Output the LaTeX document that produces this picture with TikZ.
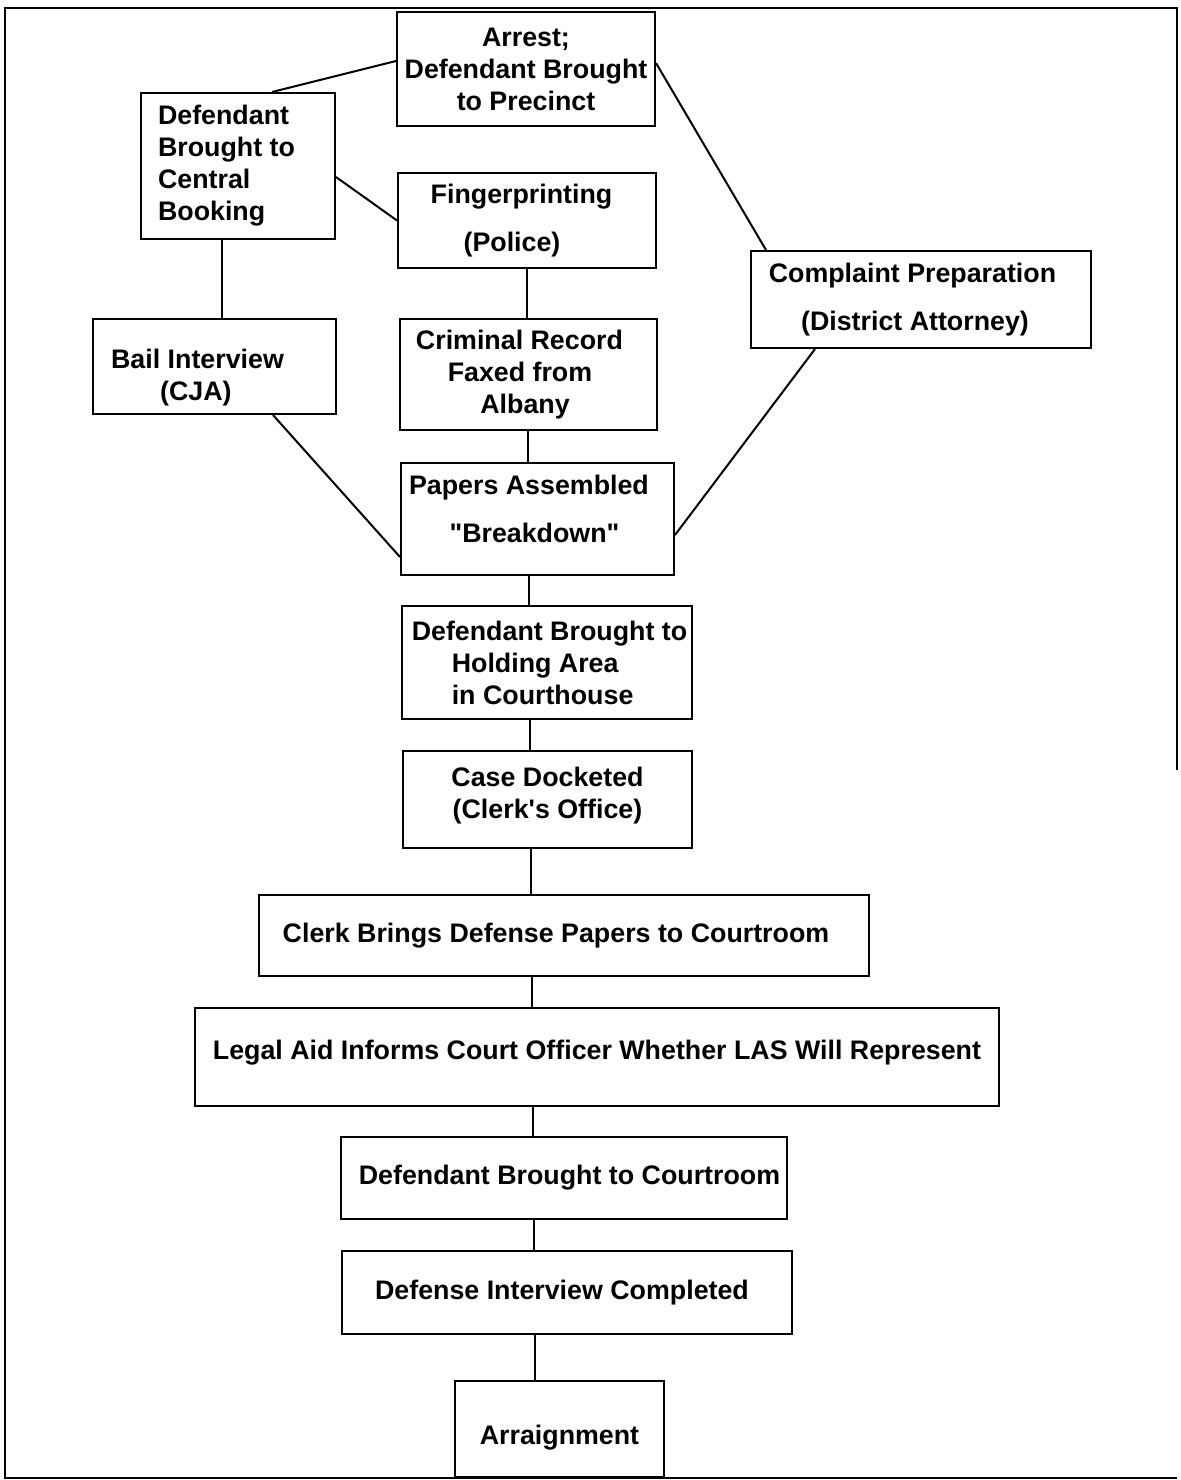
\documentclass[tikz,border=0pt]{standalone}
\usepackage{fontspec}
\newfontfamily\lsans{Liberation Sans}
\newcommand{\padr}[1]{\rule{#1}{0pt}}
\newcommand{\upby}[1]{\rule[-#1]{0pt}{#1}}
\newcommand{\dnby}[1]{\rule{0pt}{\dimexpr\fontcharht\font`A+#1\relax}}
\begin{document}
\begin{tikzpicture}[x=0.5pt,y=-0.5pt,
  box/.style={draw, line width=1pt, inner sep=0pt,
    font=\lsans\fontsize{13.4pt}{16pt}\selectfont\bfseries, align=center},
  link/.style={line width=1pt},
  frame/.style={line width=0.8pt}]
\useasboundingbox (0,0) rectangle (1181,1480);
\fill[white] (0,0) rectangle (1181,1480);

% outer frame (right side only partly printed in the scan)
\draw[frame] (1177,770) -- (1177,8) -- (5,8) -- (5,1478) -- (1177,1478);

% boxes
\node[box, minimum width=129pt, minimum height=57pt] (arrest) at (526,69)
  {Arrest;\\Defendant Brought\\to Precinct};
\node[box, align=left, minimum width=97pt, minimum height=73pt] (cb) at (238,166)
  {Defendant\\Brought to\padr{11.5pt}\\Central\\Booking};
\node[box, minimum width=129pt, minimum height=47.5pt] (fp) at (527,220.5)
  {Fingerprinting\padr{5.5pt}\\[8pt](Police)\padr{15pt}};
\node[box, minimum width=170pt, minimum height=48.5pt] (cp) at (921,299.5)
  {Complaint Preparation\padr{8.5pt}\\[8pt](District Attorney)\padr{6pt}};
\node[box, align=left, minimum width=121.5pt, minimum height=47.5pt] (bail) at (214.5,366.5)
  {\dnby{11.5pt}Bail Interview\padr{17pt}\\\hspace*{24.5pt}(CJA)};
\node[box, minimum width=128.5pt, minimum height=55.5pt] (cr) at (528.5,374.5)
  {Criminal Record\padr{9pt}\\Faxed from\padr{8.5pt}\\Albany\padr{3.5pt}};
\node[box, minimum width=136.5pt, minimum height=56pt] (papers) at (537.5,519)
  {Papers Assembled\padr{8.5pt}\\[8pt]"Breakdown"\padr{3pt}\upby{10pt}};
\node[box, align=left, minimum width=145pt, minimum height=56.5pt] (hold) at (547,662.5)
  {\hspace*{2.5pt}Defendant Brought to\\\hspace*{22.5pt}Holding Area\\\hspace*{22.5pt}in Courthouse};
\node[box, minimum width=144.5pt, minimum height=48.5pt] (case) at (547.5,799.5)
  {Case Docketed\\(Clerk's Office)\upby{7pt}};
\node[box, minimum width=305pt, minimum height=40.5pt] (clerk) at (564,935.5)
  {Clerk Brings Defense Papers to Courtroom\padr{8pt}};
\node[box, minimum width=402pt, minimum height=49pt] (legal) at (597,1057)
  {Legal Aid Informs Court Officer Whether LAS Will Represent\upby{7.5pt}};
\node[box, minimum width=223pt, minimum height=41pt] (court) at (564,1178)
  {\padr{5.5pt}Defendant Brought to Courtroom};
\node[box, minimum width=225pt, minimum height=41.5pt] (intv) at (567,1292.5)
  {Defense Interview Completed\padr{5pt}};
\node[box, minimum width=104.5pt, minimum height=48pt] (arr) at (559.5,1429)
  {\dnby{9.6pt}Arraignment};

% x positions of the vertical connectors
\coordinate (xa) at (222,0);
\coordinate (xb) at (527,0);
\coordinate (xc) at (528,0);
\coordinate (xd) at (529,0);
\coordinate (xe) at (530,0);
\coordinate (xf) at (531,0);
\coordinate (xg) at (532,0);
\coordinate (xh) at (533,0);
\coordinate (xi) at (534,0);
\coordinate (xj) at (535,0);

% connectors
\draw[link] ([yshift=4pt]arrest.west) -- ([xshift=17pt]cb.north);
\draw[link] ([yshift=-5.5pt]cb.east) -- (fp.west);
\draw[link] ([yshift=3pt]arrest.east) -- ([xshift=8pt]cp.north west);
\draw[link] (cb.south -| xa) -- (bail.north -| xa);
\draw[link] (fp.south -| xb) -- (cr.north -| xb);
\draw[link] (cr.south -| xc) -- (papers.north -| xc);
\draw[link] ([xshift=29.25pt]bail.south) -- ([yshift=-19pt]papers.west);
\draw[link] ([xshift=-53pt]cp.south) -- ([yshift=-8pt]papers.east);
\draw[link] (papers.south -| xd) -- (hold.north -| xd);
\draw[link] (hold.south -| xe) -- (case.north -| xe);
\draw[link] (case.south -| xf) -- (clerk.north -| xf);
\draw[link] (clerk.south -| xg) -- (legal.north -| xg);
\draw[link] (legal.south -| xh) -- (court.north -| xh);
\draw[link] (court.south -| xi) -- (intv.north -| xi);
\draw[link] (intv.south -| xj) -- (arr.north -| xj);
\end{tikzpicture}
\end{document}
